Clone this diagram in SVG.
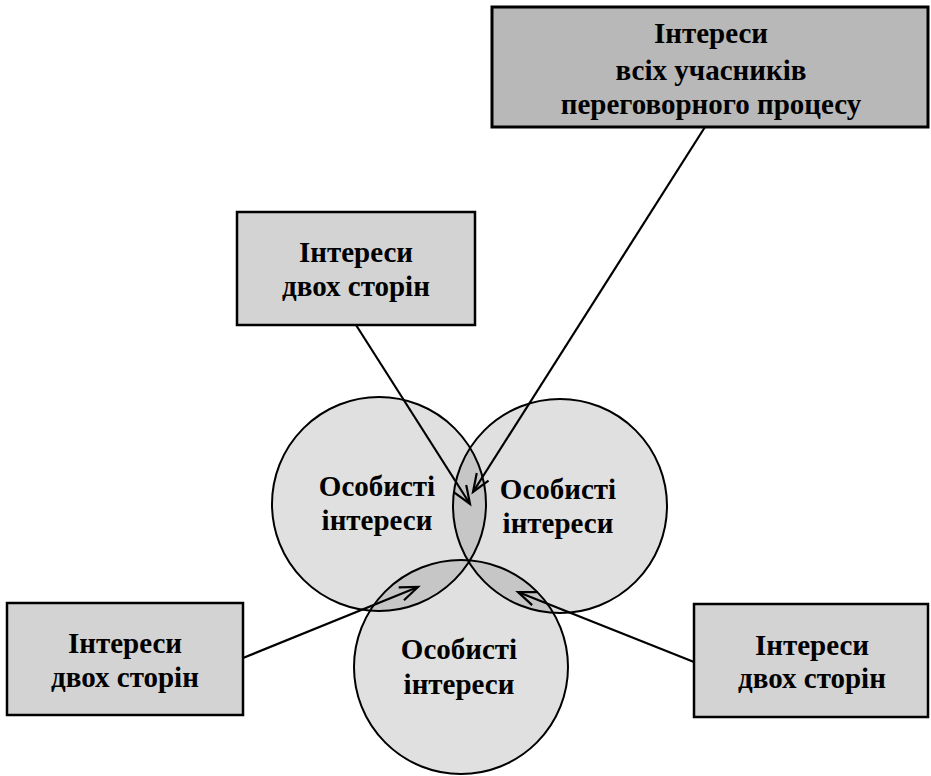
<svg xmlns="http://www.w3.org/2000/svg" width="931" height="776" viewBox="0 0 931 776">
<style>
.t{font-family:"Liberation Serif","Times New Roman",serif;font-weight:bold;font-size:29px;fill:#000;text-anchor:middle}
.circ{fill:#e0e0e0;stroke:none}
.lens{fill:#c6c6c6;stroke:none}
.ring{fill:none;stroke:#000;stroke-width:2}
.box2{fill:#d3d3d3;stroke:#000;stroke-width:2.5}
.box1{fill:#b8b8b8;stroke:#000;stroke-width:3}
.con{stroke:#000;stroke-width:2.2;fill:none;marker-end:url(#arr)}
</style>
<defs>
<marker id="arr" markerUnits="userSpaceOnUse" markerWidth="24" markerHeight="20" refX="18" refY="7" orient="auto" viewBox="-2 -2 24 20">
<path d="M0,0 L18,7 L0,14" fill="none" stroke="#000" stroke-width="2.2"/>
</marker>
<clipPath id="cA"><circle cx="379" cy="504" r="107"/></clipPath>
<clipPath id="cB"><circle cx="560" cy="506" r="107"/></clipPath>
</defs>
<rect width="931" height="776" fill="#fff"/>
<g id="circles">
<circle class="circ" cx="379" cy="504" r="107"/>
<circle class="circ" cx="560" cy="506" r="107"/>
<circle class="circ" cx="461" cy="667" r="107"/>
<circle class="lens" cx="560" cy="506" r="107" clip-path="url(#cA)"/>
<circle class="lens" cx="461" cy="667" r="107" clip-path="url(#cA)"/>
<circle class="lens" cx="461" cy="667" r="107" clip-path="url(#cB)"/>
</g>
<g id="node-circle-left">
<circle class="ring" cx="379" cy="504" r="107"/>
<text class="t" x="377" y="496">Особисті</text>
<text class="t" x="377" y="530">інтереси</text>
</g>
<g id="node-circle-right">
<circle class="ring" cx="560" cy="506" r="107"/>
<text class="t" x="558" y="499">Особисті</text>
<text class="t" x="558" y="533">інтереси</text>
</g>
<g id="node-circle-bottom">
<circle class="ring" cx="461" cy="667" r="107"/>
<text class="t" x="459" y="659">Особисті</text>
<text class="t" x="459" y="694">інтереси</text>
</g>
<g id="node-all">
<rect class="box1" x="492" y="7" width="436" height="120"/>
<text class="t" x="711" y="43">Інтереси</text>
<text class="t" x="711" y="80">всіх учасників</text>
<text class="t" x="711" y="114">переговорного процесу</text>
</g>
<g id="node-two-top">
<rect class="box2" x="237" y="212" width="238" height="113"/>
<text class="t" x="356" y="262">Інтереси</text>
<text class="t" x="356" y="296">двох сторін</text>
</g>
<g id="node-two-left">
<rect class="box2" x="7" y="603" width="236" height="112"/>
<text class="t" x="125" y="653">Інтереси</text>
<text class="t" x="125" y="687">двох сторін</text>
</g>
<g id="node-two-right">
<rect class="box2" x="694" y="604" width="234" height="113"/>
<text class="t" x="812" y="655">Інтереси</text>
<text class="t" x="812" y="688">двох сторін</text>
</g>
<g id="connectors">
<line class="con" x1="356" y1="325" x2="470" y2="504"/>
<line class="con" x1="705" y1="127" x2="473" y2="492"/>
<line class="con" x1="243" y1="658" x2="418" y2="587"/>
<line class="con" x1="694" y1="662" x2="518" y2="592"/>
</g>
</svg>
